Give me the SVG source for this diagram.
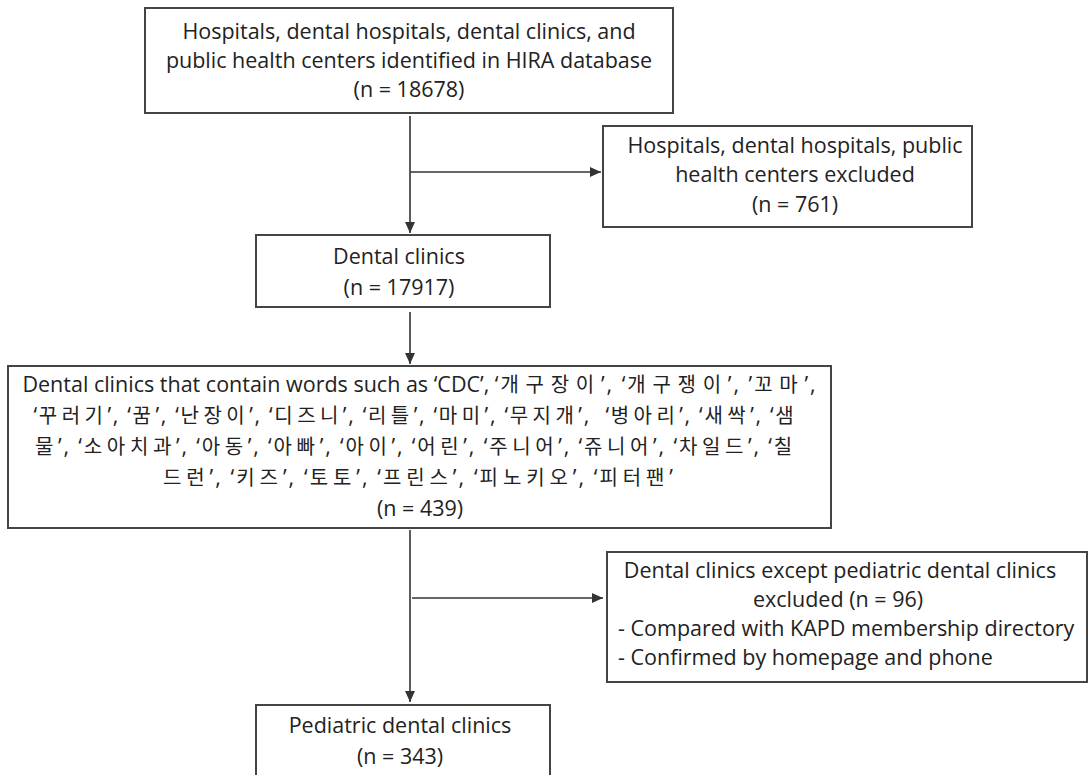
<svg xmlns="http://www.w3.org/2000/svg" width="1089" height="775" viewBox="0 0 1089 775">
<defs>
<marker id="arr" markerUnits="userSpaceOnUse" markerWidth="11" markerHeight="10" refX="11" refY="5" orient="auto">
<path d="M0,0 L11,5 L0,10 z" fill="#333"/>
</marker>
<style>
.box{fill:#fff;stroke:#444;stroke-width:2}
.t{font-family:"Open Sans","Noto Sans CJK KR",sans-serif;font-size:21.5px;fill:#222}
.c{text-anchor:middle}
.kl{letter-spacing:2px}
.k{font-size:20px;letter-spacing:4.8px}
.k1{letter-spacing:6.7px}
.ln{fill:none;stroke:#333;stroke-width:1.6}
</style>
</defs>
<rect width="1089" height="775" fill="#fff"/>
<g id="connectors">
<path class="ln" d="M410,116 V233" marker-end="url(#arr)"/>
<path class="ln" d="M410,172 H601" marker-end="url(#arr)"/>
<path class="ln" d="M410,312 V364" marker-end="url(#arr)"/>
<path class="ln" d="M410,530 V702" marker-end="url(#arr)"/>
<path class="ln" d="M412,598 H603" marker-end="url(#arr)"/>
</g>
<g id="n1">
<rect class="box" x="145" y="8" width="528" height="105"/>
<text class="t c" x="409" y="39">Hospitals, dental hospitals, dental clinics, and</text>
<text class="t c" x="409" y="68">public health centers identified in HIRA database</text>
<text class="t c" x="409" y="97">(n = 18678)</text>
</g>
<g id="n2">
<rect class="box" x="603" y="126" width="369" height="101"/>
<text class="t c" x="795" y="153">Hospitals, dental hospitals, public</text>
<text class="t c" x="795" y="182">health centers excluded</text>
<text class="t c" x="795" y="212">(n = 761)</text>
</g>
<g id="n3">
<rect class="box" x="256" y="235" width="294" height="72"/>
<text class="t c" x="399" y="264">Dental clinics</text>
<text class="t c" x="399" y="295">(n = 17917)</text>
</g>
<g id="n4">
<rect class="box" x="8" y="366" width="823" height="162"/>
<text class="t c" x="420" y="392">Dental clinics that contain words such as ‘CDC’, <tspan class="kl">‘<tspan class="k k1">개구장이</tspan>’, ‘<tspan class="k k1">개구쟁이</tspan>’, ’<tspan class="k k1">꼬마</tspan>’,</tspan></text>
<text class="t c kl" x="416" y="423" textLength="765" style="white-space:pre">‘<tspan class="k">꾸러기</tspan>’, ‘<tspan class="k">꿈</tspan>’, ‘<tspan class="k">난장이</tspan>’, ‘<tspan class="k">디즈니</tspan>’, ‘<tspan class="k">리틀</tspan>’, ‘<tspan class="k">마미</tspan>’, ‘<tspan class="k">무지개</tspan>’,  ‘<tspan class="k">병아리</tspan>’, ‘<tspan class="k">새싹</tspan>’, ‘<tspan class="k">샘</tspan></text>
<text class="t c kl" x="416" y="454" textLength="762"><tspan class="k">물</tspan>’, ‘<tspan class="k">소아치과</tspan>’, ‘<tspan class="k">아동</tspan>’, ‘<tspan class="k">아빠</tspan>’, ‘<tspan class="k">아이</tspan>’, ‘<tspan class="k">어린</tspan>’, ‘<tspan class="k">주니어</tspan>’, ‘<tspan class="k">쥬니어</tspan>’, ‘<tspan class="k">차일드</tspan>’, ‘<tspan class="k">칠</tspan></text>
<text class="t c kl" x="419" y="485" textLength="512"><tspan class="k">드런</tspan>’, ‘<tspan class="k">키즈</tspan>’, ‘<tspan class="k">토토</tspan>’, ‘<tspan class="k">프린스</tspan>’, ‘<tspan class="k">피노키오</tspan>’, ‘<tspan class="k">피터팬</tspan>’</text>
<text class="t c" x="420" y="516">(n = 439)</text>
</g>
<g id="n5">
<rect class="box" x="607" y="552" width="480" height="130"/>
<text class="t c" x="840" y="578">Dental clinics except pediatric dental clinics</text>
<text class="t c" x="838" y="607">excluded (n = 96)</text>
<text class="t" x="618" y="636">- Compared with KAPD membership directory</text>
<text class="t" x="618" y="665">- Confirmed by homepage and phone</text>
</g>
<g id="n6">
<rect class="box" x="256" y="705" width="294" height="90"/>
<text class="t c" x="400" y="733">Pediatric dental clinics</text>
<text class="t c" x="400" y="764">(n = 343)</text>
</g>
</svg>
